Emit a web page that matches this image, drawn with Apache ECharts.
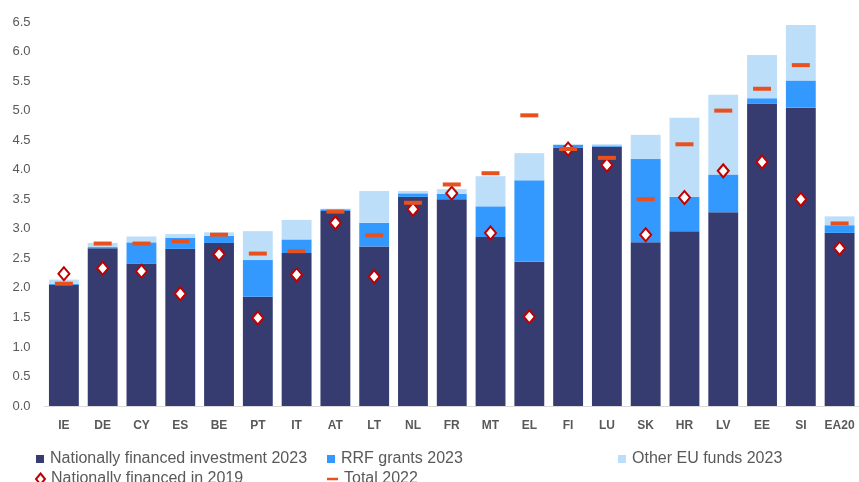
<!DOCTYPE html>
<html>
<head>
    <meta charset="utf-8">
    <title>Public investment</title>
    <script src="https://cdn.jsdelivr.net/npm/echarts@6/dist/echarts.min.js"></script>
    <style>
        html, body { margin: 0; padding: 0; background: #fff; }
        #chart-box { width: 859px; height: 482px; }
    </style>
</head>
<body>
<div id="chart-box"></div>
<script type="text/javascript">
    const countries = ["IE","DE","CY","ES","BE","PT","IT","AT","LT","NL","FR","MT","EL","FI","LU","SK","HR","LV","EE","SI","EA20"];
    const national2023 = [2.05,2.67,2.41,2.66,2.76,1.85,2.59,3.30,2.70,3.54,3.50,2.86,2.44,4.37,4.39,2.77,2.96,3.28,5.12,5.05,2.93];
    const rrf2023 = [0.02,0.02,0.36,0.19,0.12,0.62,0.23,0.03,0.40,0.06,0.09,0.52,1.38,0.05,0.02,1.41,0.58,0.64,0.09,0.46,0.13];
    const otherEu2023 = [0.07,0.07,0.10,0.06,0.06,0.49,0.33,0.01,0.54,0.04,0.08,0.51,0.46,0.01,0.02,0.41,1.34,1.35,0.73,0.94,0.15];
    const national2019 = [2.24,2.33,2.28,1.90,2.57,1.49,2.22,3.10,2.19,3.33,3.60,2.93,1.51,4.35,4.08,2.90,3.53,3.98,4.13,3.50,2.67];
    const total2022 = [2.07,2.75,2.75,2.79,2.90,2.58,2.62,3.29,2.89,3.44,3.75,3.94,4.92,4.35,4.20,3.50,4.43,5.00,5.37,5.77,3.09];

    const font = "'Liberation Sans Narrow', 'Liberation Sans', sans-serif";
    const grey = "#595959";

    // one legend box per item so each one sits where the original has it
    const legendText = { fontFamily: font, fontSize: 16, color: grey, padding: [0, 0, 0, 1] };
    const mkLegend = (name, left, top, icon, w, h) => ({
        data: [name], left: left, top: top, icon: icon, itemWidth: w, itemHeight: h,
        itemGap: 0, padding: 0, textStyle: legendText, selectedMode: false
    });

    const chart = echarts.init(document.getElementById("chart-box"));
    const option = {
        animation: false,
        grid: { left: 44.5, right: -3.5, top: 22, bottom: 76 },
        legend: [
            mkLegend("Nationally financed investment 2023", 36, 451, "rect", 8, 8),
            mkLegend("RRF grants 2023", 327, 451, "rect", 8, 8),
            mkLegend("Other EU funds 2023", 618, 451, "rect", 8, 8),
            mkLegend("Nationally financed in 2019", 35, 471, "diamond", 9, 11),
            mkLegend("Total 2022", 327, 471, "rect", 11, 2.5)
        ],
        xAxis: {
            type: "category",
            data: countries,
            axisTick: { show: false },
            axisLine: { lineStyle: { color: "#D9D9D9", width: 1 } },
            axisLabel: { interval: 0, fontFamily: font, fontSize: 12, fontWeight: "bold", color: grey, margin: 14 }
        },
        yAxis: {
            type: "value",
            min: 0, max: 6.5, interval: 0.5,
            splitLine: { show: false },
            axisLine: { show: false },
            axisLabel: { fontFamily: font, fontSize: 13, color: grey, margin: 14,
                formatter: v => v.toFixed(1) }
        },
        series: [
            { name: "Nationally financed investment 2023", type: "bar", stack: "inv",
              barCategoryGap: "23%", itemStyle: { color: "#373C70" }, data: national2023 },
            { name: "RRF grants 2023", type: "bar", stack: "inv",
              itemStyle: { color: "#3399FF" }, data: rrf2023 },
            { name: "Other EU funds 2023", type: "bar", stack: "inv",
              itemStyle: { color: "#BDDEF9" }, data: otherEu2023 },
            { name: "Nationally financed in 2019", type: "scatter", symbol: "diamond",
              symbolSize: [11, 13], z: 5,
              itemStyle: { color: "#fff", borderColor: "#C00000", borderWidth: 2, opacity: 1 },
              data: national2019 },
            { name: "Total 2022", type: "scatter", symbol: "rect",
              symbolSize: [18, 4], z: 6,
              itemStyle: { color: "#E8501E", opacity: 1 }, data: total2022 }
        ]
    };
    chart.setOption(option);
</script>
</body>
</html>
